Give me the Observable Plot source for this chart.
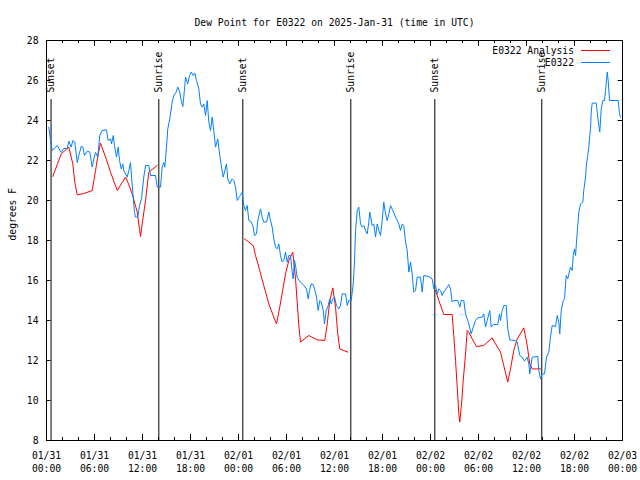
<!DOCTYPE html>
<html>
<head>
<meta charset="utf-8">
<script src="https://cdn.jsdelivr.net/npm/d3@7"></script>
<script src="https://cdn.jsdelivr.net/npm/@observablehq/plot@0.6"></script>
<style>
  html, body { margin: 0; padding: 0; background: white; }
  #chart svg { display: block; }
</style>
</head>
<body>
<div id="chart"></div>
<script>
// ---- data (hours since 2025-01-31 00:00 UTC) ----
const obsHours = [0.29,0.5,0.71,1.34,1.84,2.16,2.59,2.79,3.09,3.29,3.54,3.71,3.84,4.04,4.34,4.54,4.75,5.09,5.41,5.71,5.91,6.13,6.41,6.66,6.96,7.5,7.71,8.0,8.13,8.34,8.5,8.75,8.96,9.13,9.34,9.54,9.66,9.88,10.09,10.29,10.5,10.63,10.84,11.0,11.13,11.41,11.63,11.88,12.16,12.38,12.79,13.0,13.63,13.84,14.25,14.46,14.66,14.79,15.0,15.16,15.41,15.71,15.91,16.21,16.41,16.66,16.84,17.04,17.16,17.38,17.66,17.88,18.09,18.34,18.54,18.75,19.04,19.25,19.46,19.66,19.88,20.09,20.29,20.5,20.71,20.91,21.13,21.41,21.63,21.88,22.09,22.29,22.5,22.66,22.91,23.21,23.41,23.63,23.84,24.13,24.46,24.66,24.88,25.09,25.29,25.59,25.84,26.0,26.25,26.41,26.75,26.96,27.16,27.5,27.79,28.0,28.21,28.41,28.63,28.84,29.04,29.25,29.46,29.66,29.88,30.09,30.29,30.5,30.71,30.84,31.0,31.16,31.34,31.75,32.16,32.5,32.71,32.88,33.09,33.34,33.5,33.75,33.96,34.16,34.34,34.59,34.75,34.96,35.16,35.41,35.59,35.79,36.0,36.25,36.54,36.75,36.96,37.38,37.59,37.79,38.09,38.34,38.5,38.63,38.84,39.04,39.25,39.46,39.66,39.88,40.09,40.29,40.41,40.71,40.91,41.13,41.34,41.54,41.75,41.96,42.16,42.38,42.59,42.79,43.0,43.29,43.63,44.04,44.25,44.46,44.66,44.88,45.09,45.29,45.5,45.71,45.91,46.13,46.34,46.75,46.96,47.16,47.79,48.21,48.41,48.63,48.84,49.04,49.25,49.46,49.66,50.09,50.29,50.5,50.71,50.91,51.41,51.66,51.84,52.16,52.38,52.59,52.79,53.09,53.34,53.63,53.91,54.46,54.66,54.88,55.09,55.29,55.41,55.59,55.84,56.41,56.63,56.75,56.96,57.16,57.46,57.66,57.91,58.54,58.84,59.16,59.46,59.75,60.09,60.29,60.41,60.71,61.41,61.54,61.75,61.96,62.25,62.5,62.79,63.0,63.21,63.63,63.84,64.04,64.16,64.34,64.59,64.75,64.96,65.16,65.29,65.5,65.71,65.84,66.0,66.13,66.34,66.54,66.75,67.04,67.16,67.38,67.5,67.66,67.79,67.91,68.0,68.09,68.21,68.71,68.84,69.04,69.16,69.34,69.54,69.75,69.88,70.09,70.21,70.38,71.46,71.63,71.75];
const obsValues = [23.67,23.0,22.5,22.75,22.4,22.6,22.6,22.97,22.67,23.0,22.92,22.33,21.9,22.25,22.7,22.68,22.25,22.47,22.42,21.67,22.08,22.4,22.17,23.25,23.5,23.53,23.0,23.08,22.83,23.25,22.75,22.17,22.67,22.0,21.58,21.83,21.5,21.33,21.17,21.5,21.9,21.17,20.17,19.4,19.17,19.17,19.75,20.1,21.17,21.75,21.75,21.25,21.25,20.67,20.67,21.67,21.9,21.67,22.67,23.58,24.08,24.92,25.25,25.42,25.67,25.42,25.0,24.7,25.17,26.17,25.83,26.25,26.42,26.25,26.37,26.0,25.58,24.83,24.67,24.83,24.25,25.0,23.92,23.5,24.17,23.5,22.67,23.08,22.33,21.67,21.17,21.5,21.83,21.08,20.83,21.08,21.0,20.67,20.0,20.2,20.4,19.75,19.5,19.75,19.0,18.92,18.67,18.25,18.33,19.0,19.58,19.17,18.92,18.92,19.42,19.0,18.67,18.08,17.67,17.58,17.83,17.25,16.92,17.0,17.42,16.92,17.25,17.25,16.42,16.08,17.0,16.67,16.13,15.92,15.75,15.58,15.08,15.5,15.83,15.8,15.58,15.17,14.5,15.0,14.92,14.5,13.83,14.5,14.67,15.08,14.83,15.08,15.17,14.75,14.58,14.75,15.33,15.33,14.75,15.0,15.0,15.83,16.92,18.5,19.5,19.67,18.83,18.67,18.75,18.5,18.33,18.92,19.42,18.75,18.83,18.17,18.83,18.5,18.25,19.0,19.92,19.33,19.0,19.33,19.75,19.5,19.17,18.83,18.5,18.83,18.75,17.92,17.5,16.42,16.92,16.33,15.42,15.5,16.17,16.17,15.42,16.25,16.2,16.08,15.58,15.75,15.33,15.58,15.5,15.25,15.42,15.67,15.8,15.58,14.92,15.0,15.0,14.67,15.0,15.0,14.33,14.08,13.83,13.33,13.67,14.0,14.13,14.17,14.33,13.67,14.0,14.33,14.5,13.67,13.8,13.8,14.33,14.0,14.5,14.75,14.75,13.58,13.03,13.0,12.92,12.25,12.17,11.97,12.17,11.83,11.33,12.17,12.2,11.5,11.08,11.33,11.33,12.17,12.42,13.17,13.75,13.7,14.25,13.92,13.33,14.5,15.0,15.08,16.25,16.08,16.33,16.67,16.5,17.25,17.58,17.25,18.42,19.42,19.83,19.92,20.5,21.17,21.83,22.25,22.67,23.25,23.58,24.42,24.87,24.87,24.42,23.75,23.42,24.58,25.0,25.0,25.5,26.42,26.0,25.0,25.0,24.33,24.17];

const anaHours = [0.79,1.34,1.84,2.79,3.29,3.54,3.84,4.66,5.71,6.13,6.41,6.75,7.38,8.0,8.84,9.88,10.16,10.71,11.34,11.75,11.96,12.38,12.79,13.84,
  24.75,25.29,25.84,26.13,26.54,27.16,27.79,28.41,28.75,29.16,29.59,29.88,30.29,30.79,31.13,31.54,31.75,32.79,33.84,34.79,35.09,35.41,35.79,36.13,36.41,36.66,37.66,
  48.63,49.04,49.66,50.71,50.91,51.13,51.34,51.54,51.66,51.88,52.09,52.38,52.59,52.79,53.21,53.75,54.66,55.71,56.13,56.75,57.16,57.66,58.0,58.41,58.84,59.66,60.09,60.41,60.71,61.75];
const anaValues = [21.2,21.8,22.33,22.67,21.83,20.9,20.28,20.35,20.5,21.5,22.2,22.87,22.17,21.42,20.5,21.17,20.92,20.33,19.42,18.2,18.83,20.0,21.42,21.75,
  18.08,17.92,17.75,17.25,16.67,15.75,14.83,14.17,13.83,14.67,15.67,16.33,17.0,17.42,16.08,13.75,12.92,13.25,13.03,13.0,13.83,15.0,15.63,14.67,13.33,12.58,12.42,
  15.5,15.0,14.3,14.3,13.25,12.0,10.67,9.33,8.92,9.83,11.0,12.33,13.5,13.42,13.08,12.7,12.75,13.13,12.83,12.42,11.75,10.92,11.58,12.5,13.08,13.63,12.75,11.83,11.58,11.58];
const anaSegment = [1,1,1,1,1,1,1,1,1,1,1,1,1,1,1,1,1,1,1,1,1,1,1,1,
  2,2,2,2,2,2,2,2,2,2,2,2,2,2,2,2,2,2,2,2,2,2,2,2,2,2,2,
  3,3,3,3,3,3,3,3,3,3,3,3,3,3,3,3,3,3,3,3,3,3,3,3,3,3,3,3,3,3];

const sunHours = [0.57, 14.04, 24.54, 38.04, 48.54, 61.91];
const sunLabels = ["Sunset", "Sunrise", "Sunset", "Sunrise", "Sunset", "Sunrise"];
const sunRuleTop = 25.05;

const yTicks = [8,10,12,14,16,18,20,22,24,26,28];
const xMajorHours = [0,6,12,18,24,30,36,42,48,54,60,66,72];
const xMinorHours = [2,4,8,10,14,16,20,22,26,28,32,34,38,40,44,46,50,52,56,58,62,64,68,70];

const title = "Dew Point for E0322 on 2025-Jan-31 (time in UTC)";
const yLabel = "degrees F";
const seriesNames = ["E0322 Analysis", "E0322"];
const seriesColors = ["#ff0000", "#0080ff"];

// ---- build ----
const T0 = Date.UTC(2025, 0, 31);
const toDate = h => new Date(T0 + h * 3600e3);

const obs = obsHours.map((h, i) => ({t: toDate(h), v: obsValues[i]}));
const ana = anaHours.map((h, i) => ({t: toDate(h), v: anaValues[i], s: anaSegment[i]}));
const sun = sunHours.map((h, i) => ({t: toDate(h), label: sunLabels[i]}));
const fmt = d3.utcFormat("%m/%d\n%H:%M");

const FONT = "'DejaVu Sans Mono', 'Liberation Mono', monospace";
const yMin = 8, yMax = 28;

const plot = Plot.plot({
  width: 640,
  height: 480,
  marginLeft: 46,
  marginRight: 18,
  marginTop: 40,
  marginBottom: 40,
  style: {fontFamily: FONT, fontSize: "9.7px", background: "white", color: "black", overflow: "visible"},
  x: {type: "utc", domain: [toDate(0), toDate(72)]},
  y: {domain: [yMin, yMax]},
  marks: [
    // y axis labels
    Plot.axisY(yTicks, {tickSize: 0, tickPadding: 8, label: null, fontSize: "9.7px"}),
    Plot.text([yLabel], {frameAnchor: "left", dx: -34, rotate: -90, text: d => d, fontSize: "9.7px"}),
    // x axis labels
    Plot.axisX(xMajorHours.map(toDate), {tickSize: 0, tickPadding: 9, label: null, tickFormat: fmt, lineHeight: 1.35, fontSize: "9.7px"}),
    // tick marks (inward)
    Plot.ruleX(xMajorHours.map(toDate), {x: d => d, y1: yMin, y2: yMin + 0.3, stroke: "black"}),
    Plot.ruleX(xMinorHours.map(toDate), {x: d => d, y1: yMin, y2: yMin + 0.15, stroke: "black"}),
    Plot.ruleX(xMajorHours.map(toDate), {x: d => d, y1: yMax, y2: yMax - 0.3, stroke: "black"}),
    Plot.ruleX(xMinorHours.map(toDate), {x: d => d, y1: yMax, y2: yMax - 0.15, stroke: "black"}),
    Plot.ruleY(yTicks, {y: d => d, x1: toDate(0), x2: toDate(0.55), stroke: "black"}),
    Plot.ruleY(yTicks, {y: d => d, x1: toDate(72), x2: toDate(71.45), stroke: "black"}),
    // sunrise / sunset
    Plot.ruleX(sun, {x: "t", y1: yMin, y2: sunRuleTop, stroke: "black", strokeWidth: 1}),
    Plot.text(sun, {x: "t", y: sunRuleTop, text: "label", rotate: -90, textAnchor: "start", lineAnchor: "middle", dy: -7, fontSize: "9.7px"}),
    // series
    Plot.line(ana, {x: "t", y: "v", z: "s", stroke: seriesColors[0], strokeWidth: 1}),
    Plot.line(obs, {x: "t", y: "v", stroke: seriesColors[1], strokeWidth: 1}),
    Plot.frame({stroke: "black", strokeWidth: 1}),
    // title
    Plot.text([title], {frameAnchor: "top", dy: -21, text: d => d, fontSize: "9.7px"})
  ]
});

// legend (top-right, inside frame)
const svg = d3.select(plot);
const lg = svg.append("g").attr("font-family", FONT).attr("font-size", "9.7px");
seriesNames.forEach((name, i) => {
  const y = 50 + i * 12;
  lg.append("text").attr("x", 574).attr("y", y).attr("text-anchor", "end")
    .attr("dominant-baseline", "central").attr("fill", "black").text(name);
  lg.append("line").attr("x1", 581).attr("x2", 610).attr("y1", y + 0.5).attr("y2", y + 0.5)
    .attr("stroke", seriesColors[i]).attr("stroke-width", 1);
});

document.getElementById("chart").appendChild(plot);
</script>
</body>
</html>
